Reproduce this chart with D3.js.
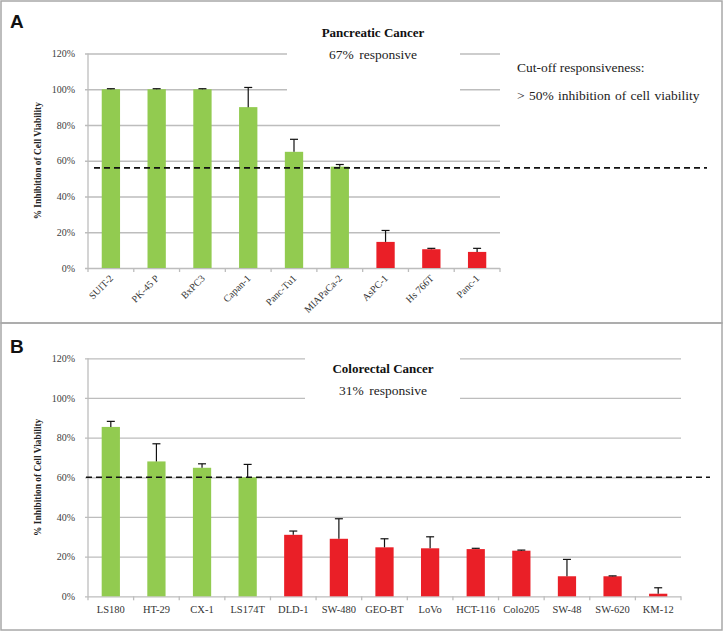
<!DOCTYPE html>
<html>
<head>
<meta charset="utf-8">
<script src="https://cdn.jsdelivr.net/npm/d3@7"></script>
<style>
  html, body { margin: 0; padding: 0; background: #fff; }
  svg { display: block; }
</style>
</head>
<body>
<svg id="chart" width="724" height="631"></svg>
<script>
// ---------------- DATA ----------------
const yTicks = [0, 20, 40, 60, 80, 100, 120];
const yTickLabels = ["0%", "20%", "40%", "60%", "80%", "100%", "120%"];

const catsA = ["SUIT-2", "PK-45 P", "BxPC3", "Capan-1", "Panc-Tu1", "MIAPaCa-2", "AsPC-1", "Hs 766T", "Panc-1"];
const valsA = [100, 100, 100, 90, 65, 56.7, 14.6, 10.5, 9];
const errA  = [0.3, 0.3, 0.3, 11, 7, 1.2, 6.4, 0.5, 2];
const respA = [true, true, true, true, true, true, false, false, false];
const cutoffA = 56;

const catsB = ["LS180", "HT-29", "CX-1", "LS174T", "DLD-1", "SW-480", "GEO-BT", "LoVo", "HCT-116", "Colo205", "SW-48", "SW-620", "KM-12"];
const valsB = [85.4, 68, 64.8, 60, 31, 29, 24.7, 24.2, 23.8, 23, 10.1, 10.1, 1.3];
const errB  = [2.8, 8.9, 2, 6.5, 1.9, 10.1, 4.3, 5.8, 0.4, 0.3, 8.5, 0.2, 3];
const respB = [true, true, true, true, false, false, false, false, false, false, false, false, false];
const cutoffB = 60;

// ---------------- STYLE ----------------
const GREEN = "#92cb50";
const RED = "#ea1f27";
const GRID = "#bdbdbd";
const SERIF = "'Liberation Serif', 'DejaVu Serif', serif";
const SANS = "'Liberation Sans', Arial, sans-serif";

const svg = d3.select("#chart");

// panel borders
svg.append("rect").attr("x", 1).attr("y", 1).attr("width", 721).attr("height", 322)
  .attr("fill", "none").attr("stroke", "#a8a8a8").attr("stroke-width", 1.5);
svg.append("rect").attr("x", 1).attr("y", 323).attr("width", 721).attr("height", 307)
  .attr("fill", "none").attr("stroke", "#a8a8a8").attr("stroke-width", 1.5);

function panel(cfg) {
  const g = svg.append("g");
  const x = d3.scaleBand().domain(cfg.cats).range([cfg.x0, cfg.x1]).paddingInner(0.6).paddingOuter(0.3);
  const xb = d3.scaleBand().domain(cfg.cats).range([cfg.x0, cfg.x1]);
  const y = d3.scaleLinear().domain([0, 120]).range([cfg.yBottom, cfg.yTop]);

  // gridlines + tick labels via axis
  const yAxis = d3.axisLeft(y).tickValues(yTicks)
    .tickFormat((d, i) => yTickLabels[i]);
  const ga = g.append("g").attr("transform", `translate(${cfg.x0 - 3},0)`).call(yAxis)
    .attr("font-family", null).attr("font-size", null);
  ga.select(".domain").remove();
  ga.selectAll(".tick line").attr("stroke", GRID).attr("stroke-width", 1.3)
    .attr("x1", 0).attr("x2", cfg.x1 - cfg.x0 + 3);
  ga.selectAll(".tick text")
    .style("font-family", SERIF).style("font-size", "10px")
    .attr("fill", "#404040").attr("x", -10);

  // vertical y axis line
  g.append("line").attr("x1", cfg.x0).attr("x2", cfg.x0)
    .attr("y1", y(120)).attr("y2", y(0)).attr("stroke", GRID).attr("stroke-width", 1.3);

  // x axis ticks at band boundaries
  const bounds = cfg.cats.map(c => xb(c)).concat([cfg.x1]);
  g.selectAll(".xt").data(bounds).join("line")
    .attr("x1", d => d).attr("x2", d => d)
    .attr("y1", y(0)).attr("y2", y(0) + 4)
    .attr("stroke", GRID).attr("stroke-width", 1.3);

  // title white box covering gridlines
  g.append("rect").attr("x", cfg.boxX0).attr("y", y(120) - 6)
    .attr("width", cfg.boxX1 - cfg.boxX0).attr("height", y(100) - y(120) + 12)
    .attr("fill", "#fff");
  g.append("text").attr("x", cfg.titleX).attr("y", cfg.titleY)
    .attr("text-anchor", "middle").style("font-family", SERIF).attr("font-weight", "bold")
    .style("font-size", "13px").attr("fill", "#111").text(cfg.title);
  g.append("text").attr("x", cfg.titleX).attr("y", cfg.titleY + 22)
    .attr("text-anchor", "middle").style("font-family", SERIF)
    .style("font-size", "13.5px").attr("fill", "#222").attr("word-spacing", 2).text(cfg.sub);

  // bars
  g.selectAll(".bar").data(cfg.cats).join("rect")
    .attr("x", c => x(c)).attr("width", x.bandwidth())
    .attr("y", (c, i) => y(cfg.vals[i]))
    .attr("height", (c, i) => y(0) - y(cfg.vals[i]))
    .attr("fill", (c, i) => cfg.resp[i] ? GREEN : RED);

  // error bars (upper only)
  const cx = c => x(c) + x.bandwidth() / 2;
  g.selectAll(".ev").data(cfg.cats).join("line")
    .attr("x1", cx).attr("x2", cx)
    .attr("y1", (c, i) => y(cfg.vals[i])).attr("y2", (c, i) => y(cfg.vals[i] + cfg.errs[i]))
    .attr("stroke", "#111").attr("stroke-width", 1.2);
  g.selectAll(".ec").data(cfg.cats).join("line")
    .attr("x1", c => cx(c) - 4).attr("x2", c => cx(c) + 4)
    .attr("y1", (c, i) => y(cfg.vals[i] + cfg.errs[i])).attr("y2", (c, i) => y(cfg.vals[i] + cfg.errs[i]))
    .attr("stroke", "#111").attr("stroke-width", 1.2);

  // cutoff dashed line
  g.append("line").attr("x1", cfg.dashX0).attr("x2", cfg.dashX1)
    .attr("y1", y(cfg.cutoff)).attr("y2", y(cfg.cutoff))
    .attr("stroke", "#111").attr("stroke-width", 1.6).attr("stroke-dasharray", "6,4");

  // x labels
  if (cfg.rotate) {
    g.selectAll(".xl").data(cfg.cats).join("text")
      .attr("transform", c => `translate(${cx(c) + 3},${y(0) + 11}) rotate(-45)`)
      .attr("text-anchor", "end").style("font-family", SERIF).style("font-size", "10px")
      .attr("fill", "#333").text(c => c);
  } else {
    g.selectAll(".xl").data(cfg.cats).join("text")
      .attr("x", cx).attr("y", y(0) + 17)
      .attr("text-anchor", "middle").style("font-family", SERIF).style("font-size", "10.5px")
      .attr("fill", "#333").text(c => c);
  }

  // y axis title
  const ym = (y(0) + y(120)) / 2;
  g.append("text").attr("transform", `translate(41,${ym}) rotate(-90)`)
    .attr("text-anchor", "middle").style("font-family", SERIF).attr("font-weight", "bold")
    .style("font-size", "9.4px").attr("fill", "#222").text("% Inhibition of Cell Viability");

  // panel letter
  g.append("text").attr("x", 10).attr("y", cfg.letterY)
    .style("font-family", SANS).attr("font-weight", "bold").style("font-size", "19px")
    .attr("fill", "#111").text(cfg.letter);
  return { x, y, g };
}

const A = panel({
  cats: catsA, vals: valsA, errs: errA, resp: respA, cutoff: cutoffA,
  x0: 88, x1: 500, yTop: 53.5, yBottom: 268,
  boxX0: 287, boxX1: 460, title: "Pancreatic Cancer", sub: "67% responsive",
  titleX: 373, titleY: 37, dashX0: 94, dashX1: 707, rotate: true, letter: "A", letterY: 28
});
A.g.append("text").attr("x", 517).attr("y", 72).style("font-family", SERIF)
  .style("font-size", "13.5px").attr("fill", "#222").text("Cut-off responsiveness:");
A.g.append("text").attr("x", 517).attr("y", 100).style("font-family", SERIF)
  .style("font-size", "13.5px").attr("fill", "#222").attr("word-spacing", 1).text("> 50% inhibition of cell viability");

panel({
  cats: catsB, vals: valsB, errs: errB, resp: respB, cutoff: cutoffB,
  x0: 88, x1: 681, yTop: 358.3, yBottom: 596.3,
  boxX0: 305, boxX1: 460, title: "Colorectal Cancer", sub: "31% responsive",
  titleX: 383, titleY: 373, dashX0: 86, dashX1: 710, rotate: false, letter: "B", letterY: 353
});
</script>
</body>
</html>
